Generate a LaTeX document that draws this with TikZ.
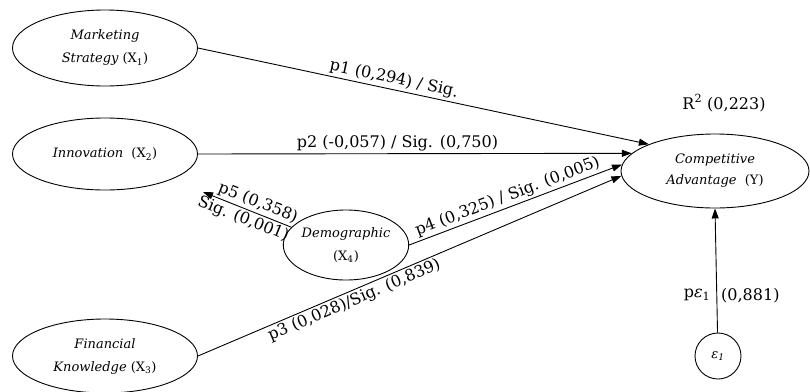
\documentclass[tikz,border=0pt]{standalone}
\usepackage{fontspec}
\setmainfont{DejaVu Serif}
\usetikzlibrary{arrows.meta,shapes.geometric}
\begin{document}
\begin{tikzpicture}[x=1pt,y=-1pt,
  var/.style={draw,ellipse,line width=0.9pt,minimum width=185pt,minimum height=76pt,inner sep=0pt,align=center,font=\fontsize{13}{23}\selectfont\itshape},
  path/.style={line width=0.9pt,-{Triangle[length=10pt,width=7pt]}},
  lbl/.style={font=\fontsize{16}{18}\selectfont,inner sep=2pt}]
\useasboundingbox (0,0) rectangle (810,391);
\node[var] (X1) at (105,48) {Marketing\\Strategy \upshape(X\textsubscript{1})};
\node[var,minimum height=72pt] (X2) at (105,154) {Innovation\ \ \upshape(X\textsubscript{2})};
\node[var,minimum width=122pt,minimum height=70pt] (X4) at (346,245) {Demographic\\\upshape(X\textsubscript{4})};
\node[var,minimum height=74pt] (X3) at (105,356) {Financial\\Knowledge \upshape(X\textsubscript{3})};
\node[var,minimum width=188pt,minimum height=74pt,font=\fontsize{13}{21}\selectfont\itshape] (Y) at (715,171) {Competitive\\Advantage\ \ \upshape(Y)};
\node[draw,circle,line width=0.9pt,minimum size=46pt,inner sep=0pt,font=\fontsize{13}{15}\selectfont\itshape] (e1) at (718,356) {ε\textsubscript{1}};
\node[lbl] (r2) at (724,103) {R\textsuperscript{2} (0,223)};
\coordinate (p5tip) at (203,192);
\draw[path] (X1.east) -- (Y.158.8) node[lbl,sloped,above,pos=0.43] {p1 (0,294) / Sig.};
\draw[path] (X2.east) -- (Y.168.5) node[lbl,above,pos=0.46] {p2 (-0,057) / Sig. (0,750)};
\draw[path] (X4.east) -- (Y.176.3) node[lbl,sloped,above,pos=0.48] {p4 (0,325) / Sig. (0,005)};
\draw[path] (X3.east) -- (Y.183.7) node[lbl,sloped,below,pos=0.36] {p3 (0,028)/Sig. (0,839)};
\draw[path] (X4.162) -- (p5tip) node[lbl,sloped,above,pos=0.42] {p5 (0,358)} node[lbl,sloped,below,pos=0.5] {Sig. (0,001)};
\draw[path] (e1) -- (Y.south) node[lbl,pos=0.3,left=4pt] {p\textit{ε}\textsubscript{1}} node[lbl,pos=0.3,right=2pt] {(0,881)};
\end{tikzpicture}
\end{document}
